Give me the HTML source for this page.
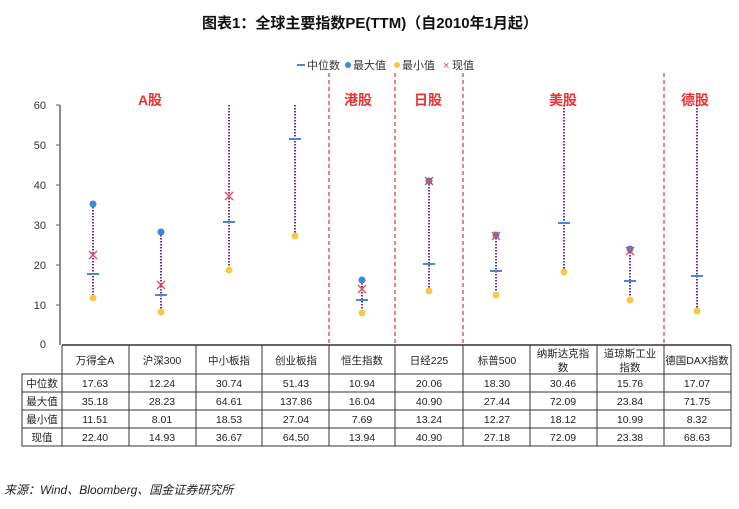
<!DOCTYPE html>
<html><head><meta charset="utf-8"><style>
body{margin:0;background:#fff;}
svg text{font-family:"Liberation Sans","Noto Sans CJK SC",sans-serif;}
</style></head><body>
<svg width="739" height="504" xmlns="http://www.w3.org/2000/svg">
<text x="370" y="28" text-anchor="middle" font-size="15" font-weight="bold" fill="#111">图表1：全球主要指数PE(TTM)（自2010年1月起）</text>
<!-- legend -->
<g font-size="11" fill="#333">
<line x1="297" y1="65" x2="305" y2="65" stroke="#4a86d6" stroke-width="2"/><text x="307" y="69">中位数</text>
<circle cx="348" cy="65" r="3" fill="#3b86e0"/><text x="353" y="69">最大值</text>
<circle cx="397" cy="65" r="3" fill="#f7c94b"/><text x="402" y="69">最小值</text>
<text x="443" y="69" fill="#e04040">×</text><text x="452" y="69">现值</text>
</g>
<!-- axis -->
<line x1="60" y1="105" x2="60" y2="345" stroke="#666" stroke-width="1.5"/>
<g font-size="11" fill="#333" text-anchor="end">
<text x="46" y="109">60</text><text x="46" y="149">50</text><text x="46" y="189">40</text><text x="46" y="229">30</text><text x="46" y="269">20</text><text x="46" y="309">10</text><text x="46" y="348">0</text>
</g>
<g stroke="#666"><line x1="56" y1="105" x2="60" y2="105"/><line x1="56" y1="145" x2="60" y2="145"/><line x1="56" y1="185" x2="60" y2="185"/><line x1="56" y1="225" x2="60" y2="225"/><line x1="56" y1="265" x2="60" y2="265"/><line x1="56" y1="305" x2="60" y2="305"/></g>
<!-- dashed separators -->
<g stroke="#e03030" stroke-dasharray="4,3" stroke-width="1.2">
<line x1="329" y1="73" x2="329" y2="345"/><line x1="395" y1="73" x2="395" y2="345"/><line x1="463" y1="73" x2="463" y2="345"/><line x1="664" y1="73" x2="664" y2="345"/>
</g>
<g font-size="14" font-weight="bold" fill="#f03030" text-anchor="middle">
<text x="150" y="105">A股</text><text x="358" y="105">港股</text><text x="428" y="105">日股</text><text x="563" y="105">美股</text><text x="695" y="105">德股</text>
</g>
<!-- series: y = 344 - v*3.98 -->
<g id="s">
<!-- cx, max, min, med, cur -->
</g>
<g stroke="#7030a0" stroke-width="2" stroke-dasharray="1.5,1.5">
<line x1="93" y1="204" x2="93" y2="298"/>
<line x1="161" y1="232" x2="161" y2="312"/>
<line x1="229" y1="105" x2="229" y2="270"/>
<line x1="295" y1="105" x2="295" y2="236"/>
<line x1="362" y1="280" x2="362" y2="313"/>
<line x1="429" y1="181" x2="429" y2="291"/>
<line x1="496" y1="235" x2="496" y2="295"/>
<line x1="564" y1="105" x2="564" y2="272"/>
<line x1="630" y1="249" x2="630" y2="300"/>
<line x1="697" y1="105" x2="697" y2="311"/>
</g>
<g fill="#3b86e0">
<circle cx="93" cy="204" r="3.5"/><circle cx="161" cy="232" r="3.5"/><circle cx="362" cy="280" r="3.5"/><circle cx="429" cy="181" r="3.5"/><circle cx="496" cy="235" r="3.5"/><circle cx="630" cy="249" r="3.5"/>
</g>
<g fill="#f7c94b">
<circle cx="93" cy="298" r="3.5"/><circle cx="161" cy="312" r="3.5"/><circle cx="229" cy="270" r="3.5"/><circle cx="295" cy="236" r="3.5"/><circle cx="362" cy="313" r="3.5"/><circle cx="429" cy="291" r="3.5"/><circle cx="496" cy="295" r="3.5"/><circle cx="564" cy="272" r="3.5"/><circle cx="630" cy="300" r="3.5"/><circle cx="697" cy="311" r="3.5"/>
</g>
<g stroke="#4a86d6" stroke-width="2">
<line x1="87" y1="274" x2="99" y2="274"/><line x1="155" y1="295" x2="167" y2="295"/><line x1="223" y1="222" x2="235" y2="222"/><line x1="289" y1="139" x2="301" y2="139"/><line x1="356" y1="300" x2="368" y2="300"/><line x1="423" y1="264" x2="435" y2="264"/><line x1="490" y1="271" x2="502" y2="271"/><line x1="558" y1="223" x2="570" y2="223"/><line x1="624" y1="281" x2="636" y2="281"/><line x1="691" y1="276" x2="703" y2="276"/>
</g>
<g stroke="#e84848" stroke-width="1.3">
<path d="M89 251l8 8M97 251l-8 8"/><path d="M157 281l8 8M165 281l-8 8"/><path d="M225 192l8 8M233 192l-8 8"/><path d="M358 285l8 8M366 285l-8 8"/><path d="M425 177l8 8M433 177l-8 8"/><path d="M492 232l8 8M500 232l-8 8"/><path d="M626 247l8 8M634 247l-8 8"/>
</g>
<!-- table -->
<g stroke="#333" stroke-width="1" fill="none">
<line x1="62" y1="345" x2="731" y2="345" stroke-width="1.5"/>
<rect x="22" y="374" width="709" height="72"/>
<line x1="22" y1="392" x2="731" y2="392"/><line x1="22" y1="410" x2="731" y2="410"/><line x1="22" y1="428" x2="731" y2="428"/>
<line x1="62" y1="345" x2="62" y2="446"/><line x1="129" y1="345" x2="129" y2="446"/><line x1="196" y1="345" x2="196" y2="446"/><line x1="262" y1="345" x2="262" y2="446"/><line x1="329" y1="345" x2="329" y2="446"/><line x1="395" y1="345" x2="395" y2="446"/><line x1="463" y1="345" x2="463" y2="446"/><line x1="530" y1="345" x2="530" y2="446"/><line x1="597" y1="345" x2="597" y2="446"/><line x1="664" y1="345" x2="664" y2="446"/><line x1="731" y1="345" x2="731" y2="446"/>
</g>
<g font-size="10.5" fill="#222" text-anchor="middle">
<text x="95" y="364">万得全A</text><text x="162" y="364">沪深300</text><text x="229" y="364">中小板指</text><text x="296" y="364">创业板指</text><text x="362" y="364">恒生指数</text><text x="429" y="364">日经225</text><text x="497" y="364">标普500</text><text x="563" y="357">纳斯达克指</text><text x="563" y="371">数</text><text x="630" y="357">道琼斯工业</text><text x="630" y="371">指数</text><text x="697" y="364">德国DAX指数</text>
</g>
<g font-size="10.5" fill="#222" text-anchor="middle" font-family="Liberation Mono">
<text x="42" y="387">中位数</text><text x="42" y="405">最大值</text><text x="42" y="423">最小值</text><text x="42" y="441" >现值</text>
<text x="95" y="387">17.63</text><text x="162" y="387">12.24</text><text x="229" y="387">30.74</text><text x="296" y="387">51.43</text><text x="362" y="387">10.94</text><text x="429" y="387">20.06</text><text x="497" y="387">18.30</text><text x="563" y="387">30.46</text><text x="630" y="387">15.76</text><text x="697" y="387">17.07</text>
<text x="95" y="405">35.18</text><text x="162" y="405">28.23</text><text x="229" y="405">64.61</text><text x="296" y="405">137.86</text><text x="362" y="405">16.04</text><text x="429" y="405">40.90</text><text x="497" y="405">27.44</text><text x="563" y="405">72.09</text><text x="630" y="405">23.84</text><text x="697" y="405">71.75</text>
<text x="95" y="423">11.51</text><text x="162" y="423">8.01</text><text x="229" y="423">18.53</text><text x="296" y="423">27.04</text><text x="362" y="423">7.69</text><text x="429" y="423">13.24</text><text x="497" y="423">12.27</text><text x="563" y="423">18.12</text><text x="630" y="423">10.99</text><text x="697" y="423">8.32</text>
<text x="95" y="441">22.40</text><text x="162" y="441">14.93</text><text x="229" y="441">36.67</text><text x="296" y="441">64.50</text><text x="362" y="441">13.94</text><text x="429" y="441">40.90</text><text x="497" y="441">27.18</text><text x="563" y="441">72.09</text><text x="630" y="441">23.38</text><text x="697" y="441">68.63</text>
</g>
<text x="4" y="494" font-size="12" font-style="italic" fill="#222">来源：Wind、Bloomberg、国金证券研究所</text>
</svg>
</body></html>
